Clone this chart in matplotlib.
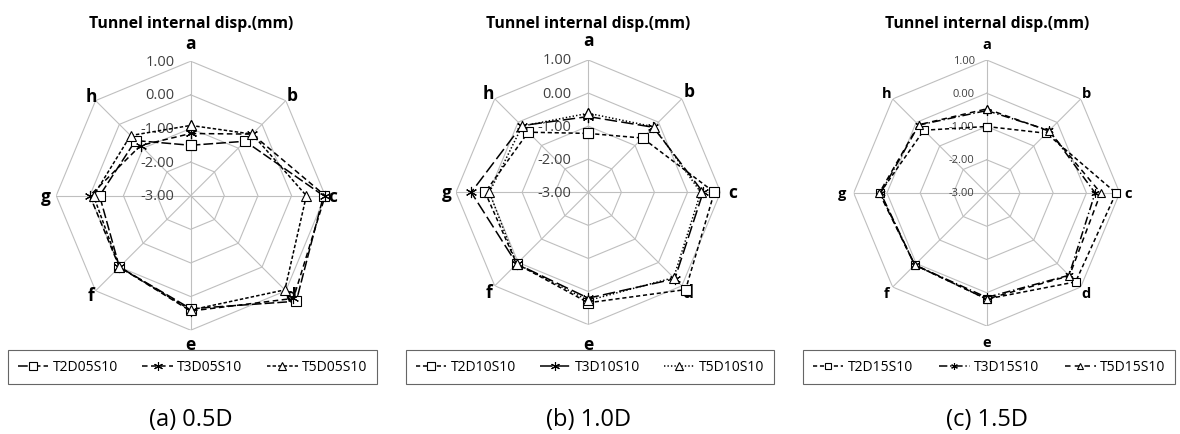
import numpy as np
import matplotlib.pyplot as plt
import matplotlib.transforms as mtransforms

plt.rcParams['font.family'] = ['Open Sans', 'DejaVu Sans']
plt.rcParams['lines.scale_dashes'] = False

categories = ['a', 'b', 'c', 'd', 'e', 'f', 'g', 'h']
ring_values = [1.0, 0.0, -1.0, -2.0, -3.0]
title = 'Tunnel internal disp.(mm)'
captions = ['(a) 0.5D', '(b) 1.0D', '(c) 1.5D']

# (a) 0.5D
t2d05 = [-1.50, -0.71, 0.95, 1.44, 0.36, 0.00, -0.29, -0.68]
t3d05 = [-1.15, -0.41, 1.00, 1.32, 0.43, 0.00, 0.00, -0.89]
t5d05 = [-0.91, -0.41, 0.44, 0.96, 0.40, 0.00, -0.11, -0.47]
labels05 = ['T2D05S10', 'T3D05S10', 'T5D05S10']

# (b) 1.0D
t2d10 = [-1.22, -0.68, 0.81, 1.16, 0.34, 0.06, 0.12, -0.43]
t3d10 = [-0.71, -0.22, 0.47, 0.70, 0.20, 0.06, 0.54, -0.15]
t5d10 = [-0.61, -0.20, 0.40, 0.65, 0.27, 0.06, -0.01, -0.17]
labels10 = ['T2D10S10', 'T3D10S10', 'T5D10S10']

# (c) 1.5D
t2d15 = [-1.00, -0.46, 0.89, 0.78, 0.19, 0.06, 0.21, -0.33]
t3d15 = [-0.52, -0.34, 0.26, 0.50, 0.14, 0.06, 0.19, -0.11]
t5d15 = [-0.47, -0.36, 0.43, 0.52, 0.19, 0.06, 0.23, -0.10]
labels15 = ['T2D15S10', 'T3D15S10', 'T5D15S10']

W, H = 1180, 435
fig = plt.figure(figsize=(W / 100, H / 100), dpi=100)

angles = np.deg2rad(np.arange(8) * 45.0)
closed = np.append(angles, angles[0])
asterisk = (6, 2, 0)

panels = [
    dict(c=(190.7, 196.7), R=134.5, data=[t2d05, t3d05, t5d05], labels=labels05,
         styles=[('s', (7, 2.2), 7), (asterisk, (4, 2.5), 8), ('^', (2.5, 1.5), 7.5)],
         lab_r=[153, 143, 142, 141, 148, 141, 145, 141], lab_fs=12.5, ring_fs=10.5,
         ring_dx=16, leg=(8, 352, 377, 384)),
    dict(c=(588.3, 193.3), R=132.3, data=[t2d10, t3d10, t5d10], labels=labels10,
         styles=[('s', (3, 2), 7), (asterisk, (9, 3), 8), ('^', (1, 1.5), 7.5)],
         lab_r=[152, 143, 144, 141, 152, 141, 141, 141], lab_fs=12.5, ring_fs=10.5,
         ring_dx=17, leg=(406, 352, 774, 384)),
    dict(c=(986.7, 194.0), R=133.0, data=[t2d15, t3d15, t5d15], labels=labels15,
         styles=[('s', (3, 2), 6), (asterisk, (6, 2, 1, 2), 6), ('^', (4, 3), 6)],
         lab_r=[149, 141, 141, 141, 149, 141, 145, 141], lab_fs=10.5, ring_fs=8,
         ring_dx=12, leg=(803, 352, 1175, 384)),
]

for i, p in enumerate(panels):
    cx, cy = p['c']
    R = p['R']
    ax = fig.add_axes([(cx - R) / W, (H - cy - R) / H, 2 * R / W, 2 * R / H],
                      projection='polar')
    ax.set_theta_zero_location('N')
    ax.set_theta_direction(-1)
    ax.set_ylim(-3, 1)
    ax.spines['polar'].set_visible(False)
    ax.patch.set_alpha(0)
    ax.set_yticks([])
    ax.set_xticks(angles)
    ax.set_xticklabels([])
    ax.xaxis.grid(True, color='#bfbfbf', lw=0.8)
    ax.yaxis.grid(False)

    # octagonal rings
    for v in ring_values[:-1]:
        ax.plot(closed, [v] * 9, color='#bfbfbf', lw=0.8, zorder=1)

    # ring labels
    off = mtransforms.ScaledTranslation(-p['ring_dx'] / 100, 0, fig.dpi_scale_trans)
    for v in ring_values:
        ax.text(0, v, f'{v:.2f}', ha='right', va='center', fontsize=p['ring_fs'],
                color='#404040', transform=ax.transData + off, zorder=2)

    # category labels
    for ang, cat, rp in zip(angles, categories, p['lab_r']):
        ax.text(ang, -3 + 4 * rp / R, cat, ha='center', va='center',
                fontsize=p['lab_fs'], fontweight='bold')

    handles = []
    for vals, lab, (mk, dash, ms) in zip(p['data'], p['labels'], p['styles']):
        ln, = ax.plot(closed, vals + vals[:1], color='black', lw=1.1, dashes=dash,
                      marker=mk, ms=ms, mfc='white', mec='black', mew=0.8,
                      clip_on=False, label=lab, zorder=3)
        handles.append(ln)

    ax.set_title(title, fontsize=11.3, fontweight='bold', pad=0,
                 y=1 + (cy - R - 28) / (2 * R))

    x0, y0, x1, y1 = p['leg']
    leg = fig.legend(handles=handles, loc='center',
                     bbox_to_anchor=(x0 / W, 1 - y1 / H, (x1 - x0) / W, (y1 - y0) / H),
                     mode='expand', ncol=3, fontsize=10, frameon=True, fancybox=False,
                     edgecolor='#404040', borderaxespad=0, borderpad=0.7,
                     handlelength=2.2, handletextpad=0.3, markerscale=0.8)
    leg.get_frame().set_linewidth(0.8)

    fig.text(cx / W, 1 - 420 / H, captions[i], ha='center', va='center', fontsize=17)

fig.savefig('out.png', dpi=100)
